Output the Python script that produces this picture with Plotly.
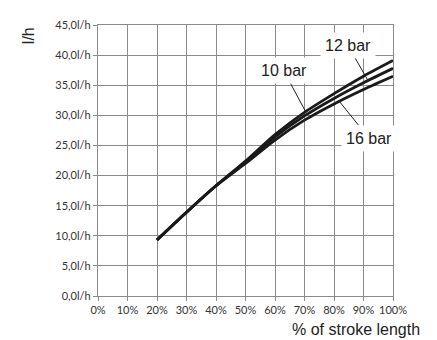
import plotly.graph_objects as go

stroke_pct = [20, 30, 40, 50, 60, 70, 80, 90, 100]
flow_10bar = [9.3, 13.9, 18.3, 22.4, 26.8, 30.5, 33.6, 36.5, 39.1]
flow_12bar = [9.3, 13.9, 18.3, 22.2, 26.4, 29.9, 32.8, 35.4, 37.8]
flow_16bar = [9.3, 13.9, 18.3, 22.0, 25.9, 29.2, 31.9, 34.3, 36.5]

y_tick_vals = [0, 5, 10, 15, 20, 25, 30, 35, 40, 45]
y_tick_text = ["0,0l/h", "5,0l/h", "10,0l/h", "15,0l/h", "20,0l/h", "25,0l/h",
               "30,0l/h", "35,0l/h", "40,0l/h", "45,0l/h"]
x_tick_vals = [0, 10, 20, 30, 40, 50, 60, 70, 80, 90, 100]
x_tick_text = ["0%", "10%", "20%", "30%", "40%", "50%", "60%", "70%", "80%", "90%", "100%"]

# label: (name, anchor x, anchor y, ax, ay)
labels = [("10 bar", 70.4, 30.6, -22, -41),
          ("12 bar", 91.5, 35.8, -20, -35),
          ("16 bar", 82.0, 32.2, 29, 36)]

GRID = "#8a8a8a"
COND = "Liberation Sans, Arial, sans-serif"
TICKF = "Lato, Open Sans, sans-serif"


def cfont(size):
    return dict(family=COND, size=size, color="#222")


fig = go.Figure()
for name, ys in [("10 bar", flow_10bar), ("12 bar", flow_12bar), ("16 bar", flow_16bar)]:
    fig.add_trace(go.Scatter(x=stroke_pct, y=ys, mode="lines", name=name,
                             line=dict(color="#1a1a1a", width=2.8, shape="spline", smoothing=0.8),
                             showlegend=False))

for name, x, y, ax, ay in labels:
    fig.add_annotation(x=x, y=y, text=name, showarrow=True, arrowhead=0, arrowwidth=1,
                       arrowcolor="#222", ax=ax, ay=ay, bgcolor="white", borderpad=4,
                       font=cfont(16))

fig.add_annotation(xref="paper", yref="paper", x=-0.235, y=1.0, text="l/h", textangle=-90,
                   showarrow=False, xanchor="center", yanchor="top", font=cfont(16))
fig.add_annotation(xref="paper", yref="paper", x=1.097, y=-0.122, text="% of stroke length",
                   showarrow=False, xanchor="right", yanchor="middle", font=cfont(16))

fig.update_xaxes(range=[0, 100], tickvals=x_tick_vals, ticktext=x_tick_text,
                 showgrid=True, gridcolor=GRID, gridwidth=1.3,
                 showline=True, linecolor=GRID, linewidth=1.3, mirror=True,
                 ticks="outside", ticklen=4, tickcolor=GRID, zeroline=False,
                 tickfont=dict(family=TICKF, size=11, color="#333"))
fig.update_yaxes(range=[0, 45], tickvals=y_tick_vals, ticktext=y_tick_text,
                 showgrid=True, gridcolor=GRID, gridwidth=1.3,
                 showline=True, linecolor=GRID, linewidth=1.3, mirror=True,
                 ticks="outside", ticklen=4, tickcolor=GRID, zeroline=False,
                 tickfont=dict(family=TICKF, size=11, color="#333"))

# try a condensed stretch for the label texts, if this plotly supports it
try:
    for a in fig.layout.annotations:
        a.font.stretch = "condensed"
except Exception:
    pass

# page body adds an 8px margin, so the figure is sized to fit within the window
fig.update_layout(width=429, height=332, margin=dict(l=90, r=44, t=10, b=44),
                  plot_bgcolor="white", paper_bgcolor="white")
fig.write_html("out.html")
